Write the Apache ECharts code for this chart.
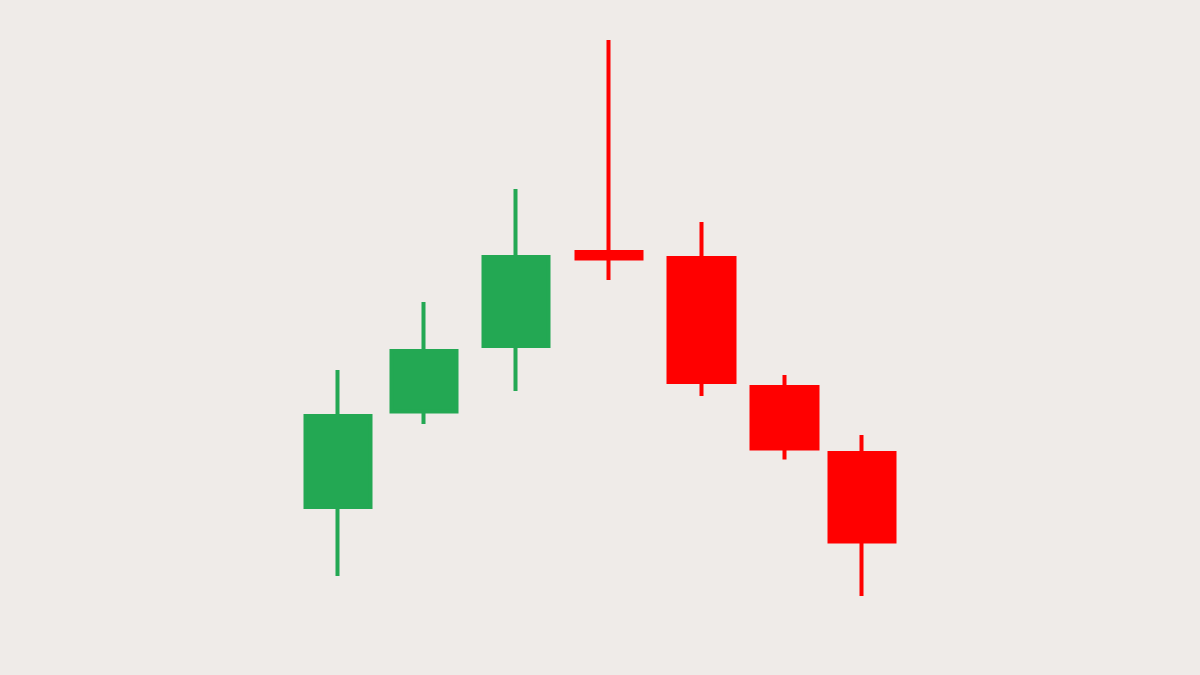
<!DOCTYPE html>
<html>
<head>
<meta charset="utf-8">
<script src="https://cdn.jsdelivr.net/npm/echarts@6/dist/echarts.min.js"></script>
<style>
html,body{margin:0;padding:0;background:#efebe8;}
#chart{width:1200px;height:675px;}
</style>
</head>
<body>
<div id="chart"></div>
<script>
// session positions (x units) and OHLC values
const positions = [33.8, 42.4, 51.6, 60.9, 70.15, 78.45, 86.2];
const opens  = [33.6, 52.7, 65.8, 84.6, 83.4, 57.6, 44.4];
const closes = [51.8, 64.8, 83.6, 83.3, 58.6, 45.3, 26.7];
const lows   = [19.8, 50.2, 56.8, 79.0, 55.8, 43.1, 15.8];
const highs  = [61.0, 74.6, 97.2, 127.0, 90.6, 60.0, 48.0];

const data = positions.map((x, i) => [x, opens[i], closes[i], lows[i], highs[i]]);

const chart = echarts.init(document.getElementById('chart'));
chart.setOption({
  backgroundColor: '#efebe8',
  animation: false,
  grid: {left: 0, right: 0, top: 0, bottom: 0},
  xAxis: {type: 'value', min: 0, max: 120, show: false},
  yAxis: {type: 'value', min: 0, max: 135, show: false},
  series: [{
    type: 'candlestick',
    data: data,
    encode: {x: 0, y: [1, 2, 3, 4]},
    barWidth: 66,
    itemStyle: {
      color: '#23a853',
      color0: '#ff0000',
      borderColor: '#23a853',
      borderColor0: '#ff0000',
      borderWidth: 4
    }
  }]
});
</script>
</body>
</html>
